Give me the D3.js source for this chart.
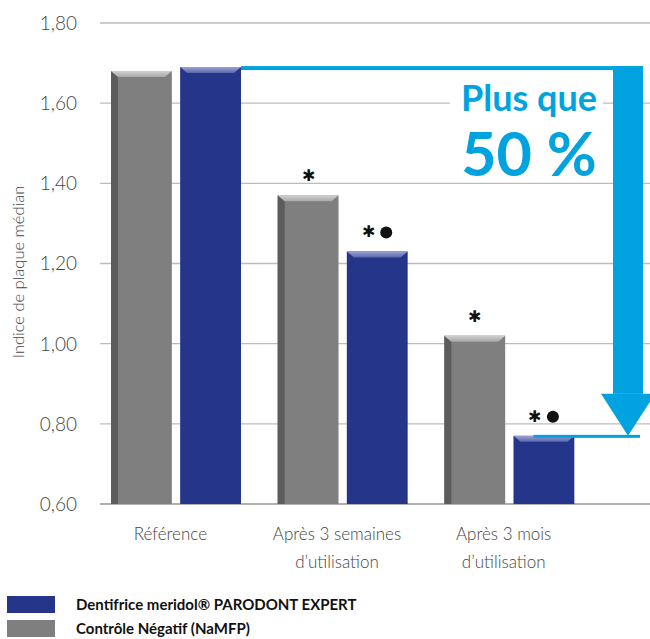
<!DOCTYPE html>
<html>
<head>
<meta charset="utf-8">
<script src="https://cdn.jsdelivr.net/npm/d3@7"></script>
<style>
  body { margin: 0; background: #fff; }
  text { font-family: "Lato", "Open Sans", sans-serif; }
</style>
</head>
<body>
<div id="canvas"></div>
<script>
var categories = [["Référence"], ["Après 3 semaines", "d’utilisation"], ["Après 3 mois", "d’utilisation"]];
var series = ["Contrôle Négatif (NaMFP)", "Dentifrice meridol® PARODONT EXPERT"];
var grayValues = [1.68, 1.37, 1.02];
var blueValues = [1.69, 1.23, 0.77];
var grayMarks = ["", "✱", "✱"];
var blueMarks = ["", "✱", "✱"];
var blueDots = [false, true, true];
var yTicks = [0.6, 0.8, 1.0, 1.2, 1.4, 1.6, 1.8];
var callout = ["Plus que", "50 %"];

var width = 650, height = 639;
var catKeys = categories.map(function(d) { return d.join(" "); });

var svg = d3.select("#canvas").append("svg")
    .attr("width", width)
    .attr("height", height);

var defs = svg.append("defs");
var gg = defs.append("linearGradient").attr("id", "grayTop").attr("x1", 0).attr("y1", 0).attr("x2", 0).attr("y2", 1);
gg.append("stop").attr("offset", 0).attr("stop-color", "#d0d0d0");
gg.append("stop").attr("offset", 1).attr("stop-color", "#a8a8a8");
var bg = defs.append("linearGradient").attr("id", "blueTop").attr("x1", 0).attr("y1", 0).attr("x2", 0).attr("y2", 1);
bg.append("stop").attr("offset", 0).attr("stop-color", "#9aa2d2");
bg.append("stop").attr("offset", 1).attr("stop-color", "#5a66ad");

var y = d3.scaleLinear().domain([0.6, 1.8]).range([504, 23]);
var x0 = d3.scaleBand().domain(catKeys).range([93, 593]);
var x1 = d3.scaleBand().domain(series).range([18, 148]).paddingInner(0.12);

// grid
svg.append("g").selectAll("line").data(yTicks).enter().append("line")
    .attr("x1", 100).attr("x2", width)
    .attr("y1", function(d) { return y(d); })
    .attr("y2", function(d) { return y(d); })
    .style("stroke", function(d) { return d == 0.6 ? "#b0b0b0" : "#bcbcbc"; })
    .style("stroke-width", function(d) { return d == 0.6 ? 2 : 1.3; });

svg.append("g").selectAll("text").data(yTicks).enter().append("text")
    .attr("x", 77).attr("y", function(d) { return y(d); })
    .attr("dy", "0.36em")
    .attr("text-anchor", "end")
    .attr("font-size", 19)
    .attr("font-weight", 300)
    .attr("fill", "#444")
    .text(function(d) { return d3.format(".2f")(d).replace(".", ","); });

svg.append("text")
    .attr("transform", "translate(24,272) rotate(-90)")
    .attr("text-anchor", "middle")
    .attr("font-size", 16.5)
    .attr("font-weight", 300)
    .attr("fill", "#444")
    .text("Indice de plaque médian");

// bars
function drawBars(values, key, main, side, topFill, marks, dots) {
    var bw = x1.bandwidth();
    var g = svg.append("g").selectAll("g").data(values).enter().append("g")
        .attr("transform", function(d, i) { return "translate(" + (x0(catKeys[i]) + x1(key)) + ",0)"; });
    g.append("rect")
        .attr("x", 0).attr("y", function(d) { return y(d); })
        .attr("width", bw).attr("height", function(d) { return y(0.6) - y(d); })
        .attr("fill", main);
    if (side) {
        g.append("polygon")
            .attr("points", function(d) { return [[0, y(d)], [7, y(d) + 6], [7, y(0.6)], [0, y(0.6)]].join(" "); })
            .attr("fill", side);
    }
    g.append("polygon")
        .attr("points", function(d) { return [[0, y(d)], [bw, y(d)], [bw - 7, y(d) + 6], [7, y(d) + 6]].join(" "); })
        .attr("fill", topFill);
    g.append("text")
        .attr("x", function(d, i) { return dots[i] ? bw / 2 - 9 : bw / 2; })
        .attr("y", function(d) { return y(d) - 14; })
        .attr("text-anchor", "middle")
        .attr("font-size", 16)
        .attr("font-family", "DejaVu Sans")
        .attr("fill", "#111")
        .text(function(d, i) { return marks[i]; });
    g.filter(function(d, i) { return dots[i]; }).append("circle")
        .attr("cx", bw / 2 + 9).attr("cy", function(d) { return y(d) - 19; })
        .attr("r", 6).attr("fill", "#111");
}
drawBars(grayValues, series[0], "#7f7f7f", "#5c5c5c", "url(#grayTop)", grayMarks, [false, false, false]);
drawBars(blueValues, series[1], "#25358a", null, "url(#blueTop)", blueMarks, blueDots);

// category labels
var cl = svg.append("g").selectAll("text").data(categories).enter().append("text")
    .attr("x", function(d, i) { return x0(catKeys[i]) + x0.bandwidth() / 2 - 6; })
    .attr("y", 540)
    .attr("text-anchor", "middle")
    .attr("font-size", 17)
    .attr("font-weight", 300)
    .attr("fill", "#444");
cl.selectAll("tspan").data(function(d) { return d; }).enter().append("tspan")
    .attr("x", function() { return d3.select(this.parentNode).attr("x"); })
    .attr("dy", function(d, i) { return i ? 28 : 0; })
    .text(function(d) { return d; });

// arrow
var arrowBlue = "#00a3e0";
var bx = x0(catKeys[0]) + x1(series[1]) + x1.bandwidth();
var yTop = y(blueValues[0]);
var yEnd = y(blueValues[2]);
var shaftL = 613, shaftR = 643;
svg.append("rect").attr("x", bx).attr("y", yTop - 1).attr("width", shaftR - bx).attr("height", 4).attr("fill", arrowBlue);
svg.append("rect").attr("x", shaftL).attr("y", yTop - 1).attr("width", shaftR - shaftL).attr("height", yEnd - 42 - yTop + 1).attr("fill", arrowBlue);
svg.append("polygon")
    .attr("points", [[601, yEnd - 42], [655, yEnd - 42], [628, yEnd]].join(" "))
    .attr("fill", arrowBlue);
var b3 = x0(catKeys[2]) + x1(series[1]) + 20;
svg.append("rect").attr("x", b3).attr("y", yEnd - 1).attr("width", 640 - b3).attr("height", 3).attr("fill", arrowBlue);

svg.append("rect").attr("x", 450).attr("y", 78).attr("width", 153).attr("height", 40).attr("fill", "#fff");
var ct = svg.append("text")
    .attr("x", 529).attr("y", 111)
    .attr("text-anchor", "middle")
    .attr("font-family", "Liberation Sans Narrow")
    .attr("font-weight", "bold")
    .attr("fill", arrowBlue);
ct.selectAll("tspan").data(callout).enter().append("tspan")
    .attr("x", 529)
    .attr("dy", function(d, i) { return i ? 65 : 0; })
    .attr("font-size", function(d, i) { return i ? 61 : 36; })
    .text(function(d) { return d; });

// legend
var legend = [series[1], series[0]];
var legendColors = ["#25358a", "#7f7f7f"];
var lg = svg.append("g").selectAll("g").data(legend).enter().append("g")
    .attr("transform", function(d, i) { return "translate(7," + (596 + i * 24) + ")"; });
lg.append("rect").attr("width", 48).attr("height", 17).attr("fill", function(d, i) { return legendColors[i]; });
lg.append("text")
    .attr("x", 69).attr("y", 14)
    .attr("font-size", 15)
    .attr("font-weight", "bold")
    .attr("fill", "#111")
    .text(function(d) { return d; });
</script>
</body>
</html>
